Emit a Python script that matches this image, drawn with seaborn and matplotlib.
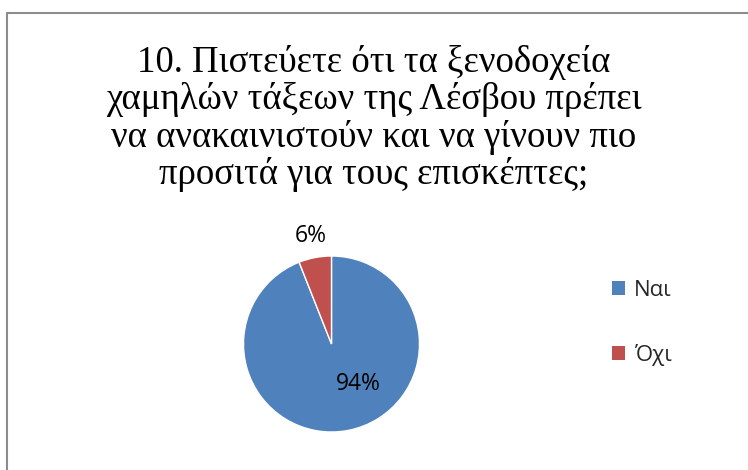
import matplotlib
matplotlib.use("Agg")
import matplotlib.pyplot as plt
from matplotlib.patches import Patch
from matplotlib.lines import Line2D
import seaborn as sns

# data
labels = ["Ναι", "Όχι"]
values = [94, 6]
colors = ["#4F81BD", "#C0504D"]
title = ("10. Πιστεύετε ότι τα ξενοδοχεία\n"
         "χαμηλών τάξεων της Λέσβου πρέπει\n"
         "να ανακαινιστούν και να γίνουν πιο\n"
         "προσιτά για τους επισκέπτες;")

sns.set_theme(style="white")
plt.rcParams['font.family'] = ['Open Sans', 'DejaVu Sans']

fig = plt.figure(figsize=(7.48, 4.70), dpi=100)
fig.patch.set_facecolor("white")

# chart frame (top and left edge visible)
fig.add_artist(Line2D([6.5/748, 1.0], [1 - 12.5/470, 1 - 12.5/470], color="#8c8c8c", lw=1.5))
fig.add_artist(Line2D([6.5/748, 6.5/748], [0.0, 1 - 12.5/470], color="#8c8c8c", lw=1.5))

fig.text(0.5, 1 - 45/470, title, ha="center", va="top", fontsize=26.5,
         family=['Liberation Serif', 'DejaVu Serif'], linespacing=1.09, color="black")

ax = fig.add_axes([221.5/748, 16/470, 220/748, 220/470])
wedges, texts, autotexts = ax.pie(values, colors=colors, startangle=90, counterclock=False,
                                  autopct="%d%%", pctdistance=1.25,
                                  wedgeprops=dict(edgecolor="white", linewidth=1),
                                  textprops=dict(fontsize=16.5, color="black"))
# Excel-style placement of the big label inside the slice
autotexts[0].set_position((0.3, -0.45))
ax.set_aspect("equal")

handles = [Patch(facecolor=c, edgecolor="none") for c in colors]
fig.legend(handles, labels, loc="center left", bbox_to_anchor=(592/748, 1 - 323/470),
           frameon=False, fontsize=16, handlelength=0.6, handleheight=0.6,
           handletextpad=0.4, labelspacing=1.95)

fig.savefig("out.png", dpi=100)
